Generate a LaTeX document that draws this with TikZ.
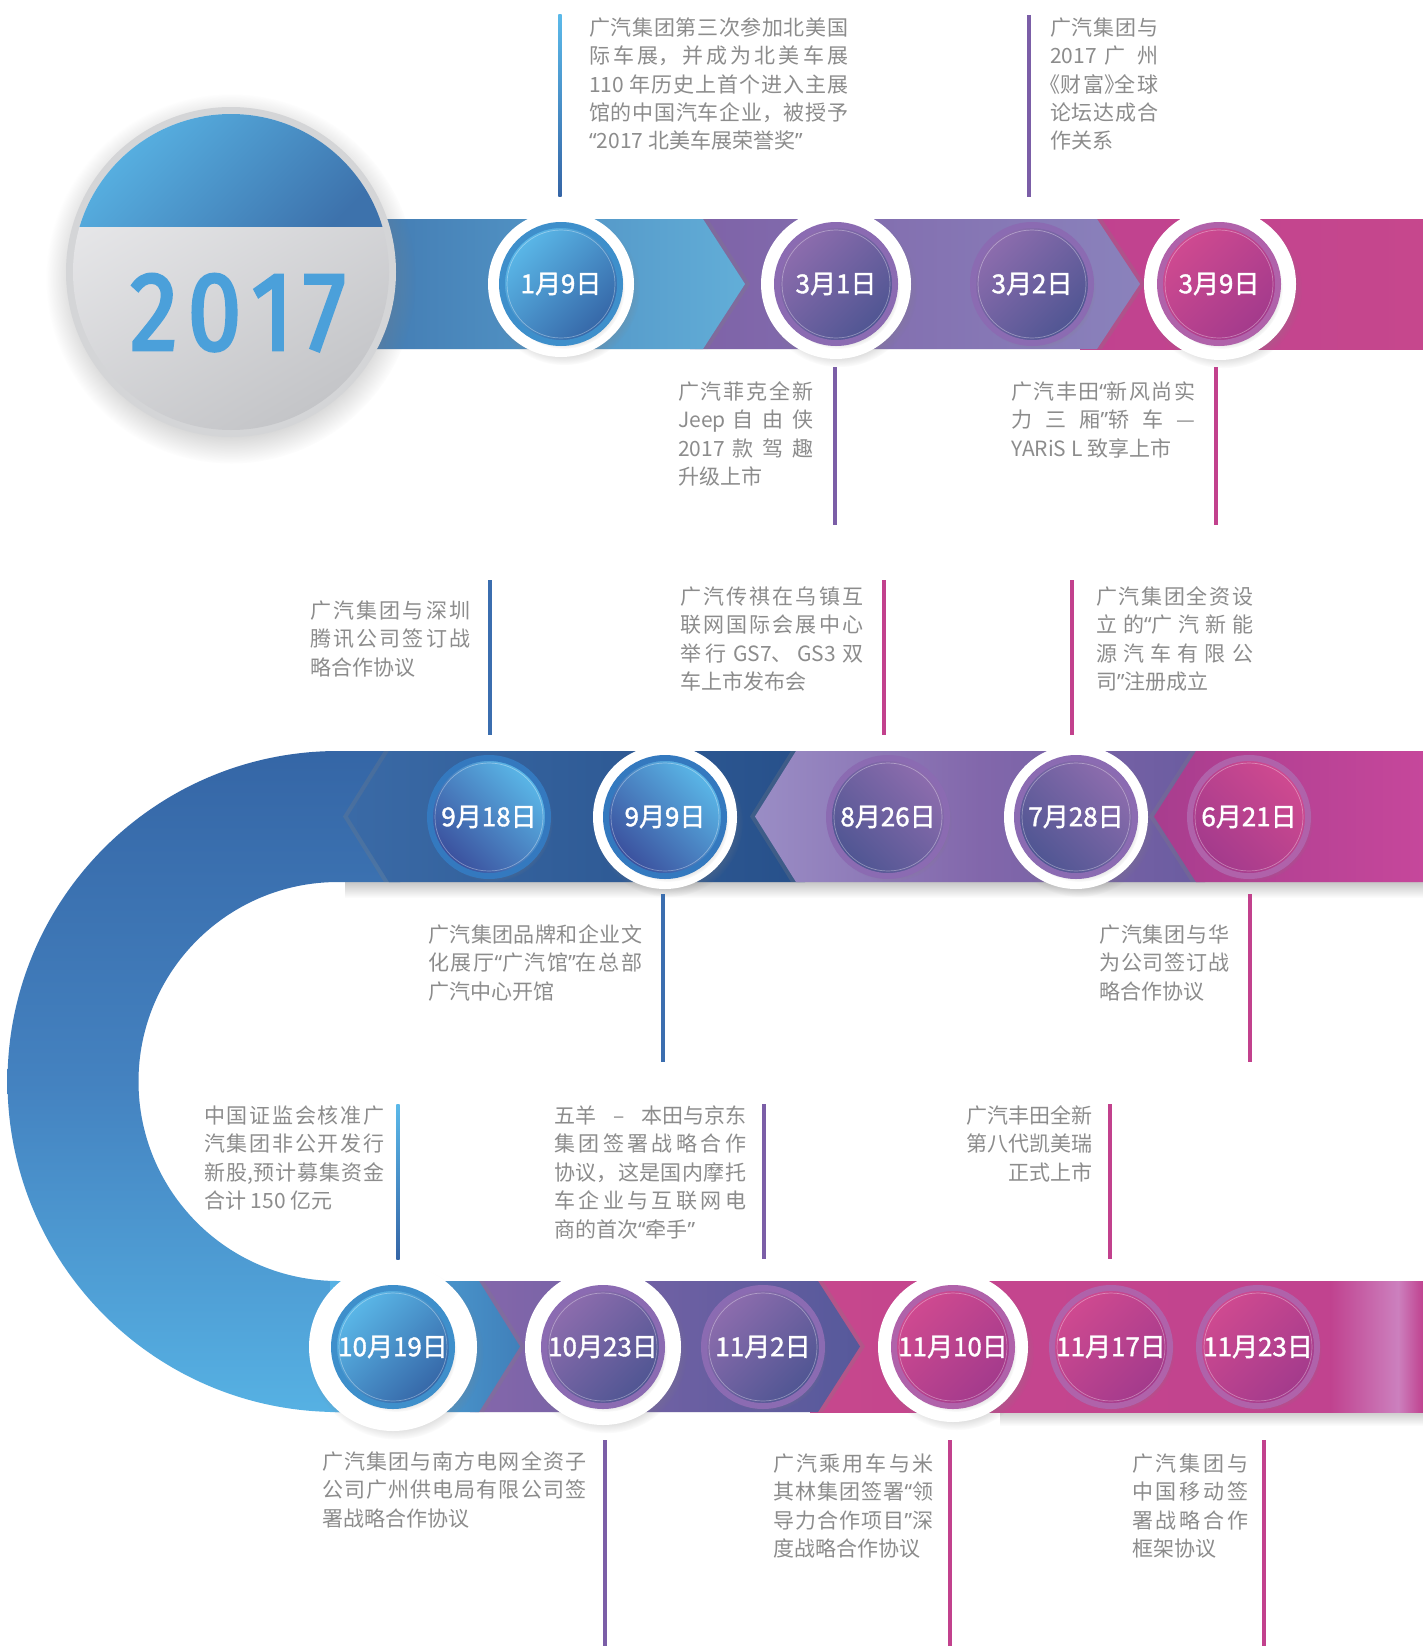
\documentclass[tikz,border=0pt]{standalone}
\usepackage{fontspec}
\setmainfont{Noto Sans CJK SC}
\newfontfamily\yearfont[FakeStretch=0.86, FakeBold=2.6]{Fira Sans}
\newfontfamily\datefont[FakeBold=1.4]{Noto Sans CJK SC}
\newfontfamily\haltfont[RawFeature=+halt]{Noto Sans CJK SC}
\newfontfamily\quotefont{Noto Sans}
\newcommand{\qo}{{\quotefont “}}
\newcommand{\qc}{{\quotefont ”}}
\newcommand{\bo}{{\haltfont 《}}
\newcommand{\bc}{{\haltfont 》}}
\usetikzlibrary{shadows}
\XeTeXlinebreaklocale "zh"
\XeTeXlinebreakskip=0pt plus 8pt
\tolerance=10000
\hbadness=10000

\definecolor{notegray}{HTML}{8C8C8C}
\definecolor{blueL}{HTML}{5BB9E9}
\definecolor{blueD}{HTML}{3565A6}
\definecolor{navyD}{HTML}{3A4E9C}
\definecolor{purpL}{HTML}{8E6DAE}
\definecolor{purpD}{HTML}{4E5592}
\definecolor{magL}{HTML}{D04A90}
\definecolor{magD}{HTML}{A23A8C}
\definecolor{rimblue}{HTML}{3E8FCB}
\definecolor{rimnavy}{HTML}{3479BF}
\definecolor{rimpurp}{HTML}{8B6BB2}
\definecolor{rimmag}{HTML}{B062AA}
\definecolor{rimgray}{HTML}{D4D5D7}
\definecolor{faceL}{HTML}{EBEBED}
\definecolor{faceD}{HTML}{C4C5C8}
\definecolor{yearblue}{HTML}{4BA0DA}
\definecolor{blueT}{HTML}{3B6EAF}
\definecolor{purpT}{HTML}{7B5EA7}
\definecolor{magT}{HTML}{C2418D}
\definecolor{aBlue}{HTML}{3D72AC}
\definecolor{bBlue}{HTML}{62AED8}
\definecolor{aPurp}{HTML}{7E62A7}
\definecolor{bPurp}{HTML}{8A82BC}
\definecolor{aMag}{HTML}{C0428F}
\definecolor{bMag}{HTML}{C6478D}
\definecolor{uTop}{HTML}{3566A6}
\definecolor{uMid}{HTML}{4482C0}
\definecolor{uBot}{HTML}{56B1E3}
\definecolor{aDark}{HTML}{3A6AA6}
\definecolor{bDark}{HTML}{27508A}
\definecolor{aLav}{HTML}{9A8DC5}
\definecolor{mLav}{HTML}{8267AB}
\definecolor{bLav}{HTML}{6A5CA0}
\definecolor{aMag2}{HTML}{A83D8E}
\definecolor{bMag2}{HTML}{C6479B}
\definecolor{aSky}{HTML}{57B2E4}
\definecolor{bSky}{HTML}{4080BA}
\definecolor{aPurp3}{HTML}{8567AB}
\definecolor{bPurp3}{HTML}{56599B}
\definecolor{pinkL}{HTML}{CC80BE}

\tikzset{
  date/.style={circle, minimum size=118pt, inner sep=0pt, line width=6pt, text=white,
    font=\datefont\fontsize{26}{26}\selectfont,
    circular drop shadow={shadow xshift=3pt, shadow yshift=-4pt, shadow scale=1.03, opacity=.35},
    path picture={\draw[white, opacity=.35, line width=.7pt] (path picture bounding box.center) circle (54);}},
  bluedate/.style={date, draw=rimblue, top color=blueL, bottom color=blueD, shading angle=45},
  navydate/.style={date, draw=rimnavy, top color=blueL, bottom color=navyD, shading angle=-45},
  purpdate/.style={date, draw=rimpurp, top color=purpL, bottom color=purpD, shading angle=45},
  magdate/.style={date, draw=rimmag, top color=magL, bottom color=magD, shading angle=45},
  flip/.style={shading angle=-45},
  ring/.style={circle, fill=white, inner sep=0pt,
    circular drop shadow={shadow xshift=3pt, shadow yshift=-5pt, shadow scale=1.04, opacity=.3}},
  note/.style={anchor=north west, inner sep=0pt, align=justify, text=notegray,
    font=\fontsize{21}{28.4}\selectfont},
  leader/.style={line width=3.5pt},
  rshadow/.style={drop shadow={shadow xshift=5pt, shadow yshift=0pt, opacity=.25}},
  lshadow/.style={drop shadow={shadow xshift=-5pt, shadow yshift=0pt, opacity=.25}},
}

\begin{document}
\begin{tikzpicture}[x=1pt, y=-1pt]
\fill[white] (0,0) rectangle (1423,1646);
\useasboundingbox (0,0) rectangle (1423,1646);

\shade[left color=aMag, right color=bMag] (1080,219) rectangle (1423,349);
\shade[left color=aPurp, right color=bPurp, rshadow] (690,219) -- (1097,219) -- (1140,284) -- (1097,349) -- (690,349) -- cycle;
\shade[left color=aBlue, right color=bBlue, rshadow] (300,219) -- (703,219) -- (745,284) -- (703,349) -- (300,349) -- cycle;

\shade[top color=black!22, bottom color=white] (345,882) rectangle (1423,898);
\shade[top color=uTop, bottom color=uBot, middle color=uMid] (400,751) -- (338,751) arc[start angle=270, end angle=90, radius=330.5] -- (400,1412) -- (400,1281) -- (338,1281) arc[start angle=90, end angle=270, radius=199.5] -- (400,882) -- cycle;
\shade[left color=aDark, right color=bDark, lshadow] (389,751) -- (805,751) -- (805,882) -- (389,882) -- (348,816.5) -- cycle;
\shade[left color=aLav, right color=bLav, middle color=mLav, lshadow] (796,751) -- (1205,751) -- (1205,882) -- (796,882) -- (755,816.5) -- cycle;
\shade[left color=aMag2, right color=bMag2, lshadow] (1196,751) -- (1423,751) -- (1423,882) -- (1196,882) -- (1154,816.5) -- cycle;

\shade[top color=black!20, bottom color=white] (1000,1412) rectangle (1423,1426);
\shade[left color=bMag, right color=aMag] (810,1281) rectangle (1423,1412);
\shade[left color=aMag, right color=pinkL] (1330,1281) rectangle (1398,1412);
\shade[left color=pinkL, right color=aMag] (1398,1281) rectangle (1423,1412);
\shade[left color=aPurp3, right color=bPurp3, rshadow] (470,1281) -- (818,1281) -- (860,1346.5) -- (818,1412) -- (470,1412) -- cycle;
\shade[left color=aSky, right color=bSky, rshadow] (330,1281) -- (479,1281) -- (520,1346.5) -- (479,1412) -- (330,1412) -- cycle;

\node[circle, minimum size=330pt, inner sep=0pt, fill=rimgray,
  circular drop shadow={shadow scale=1.12, shadow xshift=0pt, shadow yshift=-6pt, opacity=.3}] (year) at (231,272) {};
\shade[top color=faceL, bottom color=faceD, shading angle=30] (year.center) circle (158);
\begin{scope}
\clip (year.center) circle (158);
\shade[top color=blueL, bottom color=aBlue, shading angle=45] (60,100) rectangle (400,226);
\end{scope}
\node[anchor=base, text=yearblue, font=\yearfont\fontsize{112}{112}\selectfont] (yeartext) at (238,350) {2\kern10pt0\kern10pt1\kern10pt7};

\node[ring, minimum size=146pt] (w0109) at (561,284) {};
\node[ring, minimum size=150pt] (w0301) at (836,284) {};
\node[ring, minimum size=152pt] (w0309) at (1220,284) {};
\node[ring, minimum size=144pt] (w0909) at (665,817) {};
\node[ring, minimum size=144pt] (w0728) at (1076,817) {};
\node[ring, minimum size=168pt] (w1019) at (393,1347) {};
\node[ring, minimum size=156pt] (w1023) at (603,1347) {};
\node[ring, minimum size=150pt] (w1110) at (953,1347) {};

\node[bluedate] (d0109) at (561,284) {1月9日};
\node[purpdate] (d0301) at (836,284) {3月1日};
\node[purpdate] (d0302) at (1032,284) {3月2日};
\node[magdate] (d0309) at (1219,284) {3月9日};
\node[navydate] (d0918) at (489,817) {9月18日};
\node[navydate] (d0909) at (665,817) {9月9日};
\node[purpdate, flip] (d0826) at (888,817) {8月26日};
\node[purpdate, flip] (d0728) at (1076,817) {7月28日};
\node[magdate, flip] (d0621) at (1249,817) {6月21日};
\node[bluedate] (d1019) at (393,1347) {10月19日};
\node[purpdate] (d1023) at (603,1347) {10月23日};
\node[purpdate] (d1102) at (763,1347) {11月2日};
\node[magdate] (d1110) at (953,1347) {11月10日};
\node[magdate] (d1117) at (1111,1347) {11月17日};
\node[magdate] (d1123) at (1258,1347) {11月23日};

\coordinate (top1) at (560,15); \coordinate (bot1) at (560,196);
\shade[top color=blueL, bottom color=blueD] ([xshift=-1.6pt]top1) rectangle ([xshift=1.6pt]bot1);
\coordinate (top10) at (398,1104); \coordinate (bot10) at (398,1259);
\shade[top color=blueL, bottom color=blueD] ([xshift=-1.6pt]top10) rectangle ([xshift=1.6pt]bot10);
\foreach \i/\x/\ya/\yb/\col in {2/1029/15/197/purpT, 3/835/367/525/purpT, 4/1216/367/525/magT,
  5/490/580/735/blueT, 6/884/580/735/magT, 7/1072/580/735/magT, 8/663/894/1062/blueT,
  9/1250/894/1062/magT, 11/764/1104/1259/purpT, 12/1110/1104/1259/magT,
  13/605/1440/1646/purpT, 14/950/1440/1646/magT, 15/1264/1440/1646/magT}
{
  \coordinate (top\i) at (\x,\ya);
  \coordinate (bot\i) at (\x,\yb);
  \draw[leader, \col] (top\i) -- (bot\i);
}

\node[note, text width=259pt] (n0109) at (589,17.4) {广汽集团第三次参加北美国\linebreak 际车展，并成为北美车展\linebreak 110 年历史上首个进入主展\linebreak 馆的中国汽车企业，被授予\linebreak \qo 2017 北美车展荣誉奖\qc};
\node[note, text width=108pt] (n0302) at (1050,17.4) {广汽集团与\linebreak 2017 广州\linebreak \bo 财富\bc 全球\linebreak 论坛达成合\linebreak 作关系};
\node[note, text width=135pt] (n0301) at (678,381.4) {广汽菲克全新\linebreak Jeep 自由侠\linebreak 2017 款驾趣\linebreak 升级上市};
\node[note, text width=184pt] (n0309) at (1011,381.4) {广汽丰田\qo 新风尚实\linebreak 力三厢\qc 轿车—\linebreak YARiS L 致享上市};
\node[note, text width=160pt] (n0918) at (310,600.4) {广汽集团与深圳\linebreak 腾讯公司签订战\linebreak 略合作协议};
\node[note, text width=183pt] (n0826) at (680,586.4) {广汽传祺在乌镇互\linebreak 联网国际会展中心\linebreak 举行 GS7、GS3 双\linebreak 车上市发布会};
\node[note, text width=157pt] (n0728) at (1096,586.4) {广汽集团全资设\linebreak 立的\qo 广汽新能\linebreak 源汽车有限公\linebreak 司\qc 注册成立};
\node[note, text width=214pt] (n0909) at (428,924.4) {广汽集团品牌和企业文\linebreak 化展厅\qo 广汽馆\qc 在总部\linebreak 广汽中心开馆};
\node[note, text width=130pt] (n0621) at (1099,924.4) {广汽集团与华\linebreak 为公司签订战\linebreak 略合作协议};
\node[note, text width=180pt] (n1019) at (204,1105.4) {中国证监会核准广\linebreak 汽集团非公开发行\linebreak 新股,预计募集资金\linebreak 合计 150 亿元};
\node[note, text width=192pt] (n1102) at (554,1105.4) {五羊\hfill–\hfill 本田与京东\linebreak 集团签署战略合作\linebreak 协议，这是国内摩托\linebreak 车企业与互联网电\linebreak 商的首次\qo 牵手\qc};
\node[note, anchor=north east, align=flush right, text width=128pt] (n1117) at (1093,1105.4) {广汽丰田全新\\第八代凯美瑞\\正式上市};
\node[note, text width=264pt] (n1023) at (322,1451.4) {广汽集团与南方电网全资子\linebreak 公司广州供电局有限公司签\linebreak 署战略合作协议};
\node[note, text width=160pt] (n1110) at (773,1453.4) {广汽乘用车与米\linebreak 其林集团签署\qo 领\linebreak 导力合作项目\qc 深\linebreak 度战略合作协议};
\node[note, text width=116pt] (n1123) at (1132,1453.4) {广汽集团与\linebreak 中国移动签\linebreak 署战略合作\linebreak 框架协议};
\end{tikzpicture}
\end{document}
